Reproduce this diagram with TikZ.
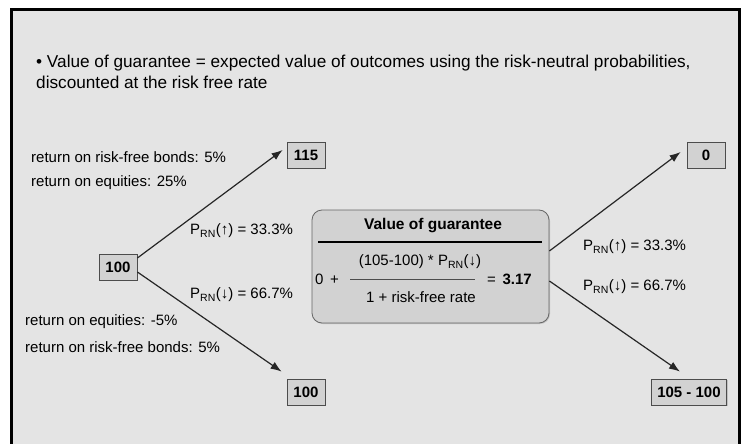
\documentclass[tikz,border=0pt]{standalone}
\usepackage{fontspec}
\setmainfont{Liberation Sans}
\usepackage{tikz}
\usetikzlibrary{arrows.meta}
\usetikzlibrary{shadows}

\definecolor{slidebg}{HTML}{E4E4E4}
\definecolor{boxfill}{HTML}{D2D2D2}

\begin{document}
\begin{tikzpicture}[x=1pt, y=-1pt,
  every node/.style={font=\fontsize{15}{21}\selectfont},
  numbox/.style={draw=black!70, fill=boxfill, line width=0.8pt, minimum height=26pt,
    minimum width=38pt, inner xsep=6pt, font=\fontsize{15}{21}\selectfont\bfseries,
    drop shadow={shadow xshift=1pt, shadow yshift=-1pt, opacity=0.35}},
  lbl/.style={anchor=west, inner sep=0pt},
  arr/.style={-{Latex[length=11pt,width=8pt]}, line width=1.2pt, black!85}]
\useasboundingbox (0,0) rectangle (747,444);
\clip (0,0) rectangle (747,444);
\fill[white] (0,0) rectangle (747,444);
\draw[line width=3pt, fill=slidebg] (11.5,9.5) rectangle (739,470);

\node[anchor=north west, align=left, inner sep=0pt, font=\fontsize{17.2}{21}\selectfont] (title) at (36,55)
  {\textbullet\ Value of guarantee = expected value of outcomes using the risk-neutral probabilities,\\
   discounted at the risk free rate};

\node[numbox] (root) at (118,267) {100};
\node[numbox] (up) at (306,155) {115};
\node[numbox] (dn) at (306,392) {100};

\node[draw=black!60, fill=boxfill, line width=0.8pt, rounded corners=10pt,
  minimum width=237pt, minimum height=113pt,
  drop shadow={shadow xshift=1pt, shadow yshift=-1pt, opacity=0.35}] (guar) at (430.5,266.5) {};
\node[font=\fontsize{15.5}{21}\selectfont\bfseries] (vtitle) at (433,226) {Value of guarantee};
\draw[line width=1.5pt] (318,242) -- (542,242);
\node (num) at (420,262) {(105-100) * P\textsubscript{RN}(↓)};
\node (den) at (421,297) {1 + risk-free rate};
\draw[line width=0.8pt, black!70] (350,279) -- (475,279);
\node[lbl] (zero0) at (315,279) {0 \,+};
\node[lbl] (res) at (487,279) {= \,\textbf{3.17}};

\node[numbox] (zero) at (706,155) {0};
\node[numbox] (diff) at (689,392) {105 - 100};

\node[lbl] (rfup) at (31,157) {return on risk-free bonds: 5\%};
\node[lbl] (equp) at (31,183) {return on equities: 25\%};
\node[lbl] (eqdn) at (25,322) {return on equities: -5\%};
\node[lbl] (rfdn) at (25,347) {return on risk-free bonds: 5\%};

\node[lbl] (pup) at (190,231) {P\textsubscript{RN}(↑) = 33.3\%};
\node[lbl] (pdn) at (190,295) {P\textsubscript{RN}(↓) = 66.7\%};
\node[lbl] (pupr) at (583,247) {P\textsubscript{RN}(↑) = 33.3\%};
\node[lbl] (pdnr) at (583,287) {P\textsubscript{RN}(↓) = 66.7\%};

\draw[arr] ([yshift=9pt]root.east) -- ([xshift=-4pt,yshift=5pt]up.west);
\draw[arr] ([yshift=-5pt]root.east) -- ([xshift=-5pt,yshift=7pt]dn.north west);
\draw[arr] ([yshift=15.5pt]guar.east) -- ([xshift=-6pt,yshift=3pt]zero.west);
\draw[arr] ([yshift=-14.5pt]guar.east) -- ([xshift=-9pt,yshift=7pt]diff.north);
\end{tikzpicture}
\end{document}
